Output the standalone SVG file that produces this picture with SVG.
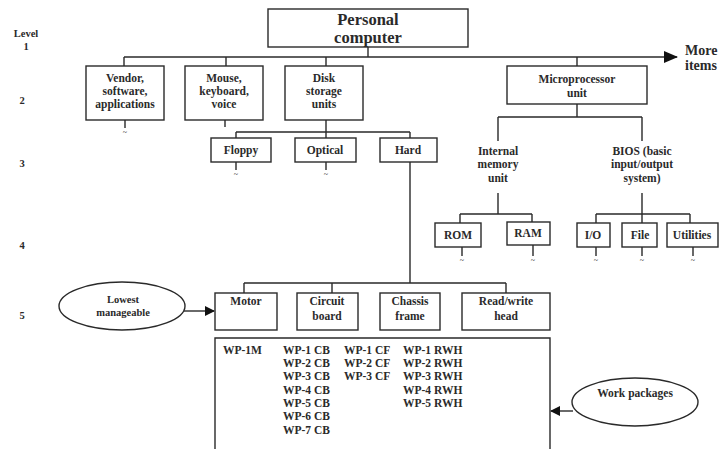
<svg xmlns="http://www.w3.org/2000/svg" width="722" height="449" viewBox="0 0 722 449" font-family="'Liberation Serif', 'DejaVu Serif', serif">
<style>
text{font-family:"Liberation Serif","DejaVu Serif",serif;font-weight:bold;fill:#2a2a2a;text-anchor:middle;font-size:11.5px}
.box{fill:#fff;stroke:#2a2a2a;stroke-width:1.4}
.ln{fill:none;stroke:#2a2a2a;stroke-width:1.4}
.lvl{font-size:10.5px}
.big{font-size:16.5px}
.more{font-size:14px;text-anchor:start}
.wp{text-anchor:start}
.tl{font-size:8px;font-weight:normal}
</style>
<defs>
<marker id="ah" markerWidth="10" markerHeight="10" refX="9" refY="5" orient="auto" markerUnits="userSpaceOnUse"><path d="M0,0 L10,5 L0,10 z" fill="#111"/></marker>
<marker id="ah2" markerWidth="14" markerHeight="12" refX="13" refY="6" orient="auto" markerUnits="userSpaceOnUse"><path d="M0,0 L14,6 L0,12 z" fill="#111"/></marker>
</defs>

<g id="levels">
<text class="lvl" x="26" y="37">Level</text>
<text class="lvl" x="26" y="50">1</text>
<text class="lvl" x="22" y="104">2</text>
<text class="lvl" x="22" y="167">3</text>
<text class="lvl" x="22" y="249">4</text>
<text class="lvl" x="22" y="319">5</text>
</g>

<g id="connectors">
<path class="ln" d="M368,47 V57"/>
<path class="ln" d="M124,57 H677" marker-end="url(#ah2)"/>
<path class="ln" d="M124,57 V66 M226,57 V66 M326,57 V66 M577,57 V66"/>
<path class="ln" d="M125,120 V128 M225,120 V127"/>
<path class="ln" d="M326,120 V132 M236,132 H410 M236,132 V138 M326,132 V138 M410,132 V138"/>
<path class="ln" d="M236,162 V170 M326,162 V170"/>
<path class="ln" d="M410,162 V283 M244,283 H506 M244,283 V293 M332,283 V293 M506,283 V293"/>
<path class="ln" d="M577,104 V117 M498,117 H642 M498,117 V141 M642,117 V141"/>
<path class="ln" d="M498,193 V214 M460,214 H532 M460,214 V223 M532,214 V222"/>
<path class="ln" d="M642,193 V214 M596,214 H690 M596,214 V223 M642,214 V223 M690,214 V223"/>
<path class="ln" d="M462,247 V256 M533,245 V256 M596,247 V256 M642,247 V256 M693,247 V256"/>
<path class="ln" d="M184,311 H214" marker-end="url(#ah)"/>
<path class="ln" d="M573,411 H551" marker-end="url(#ah)"/>
</g>

<g id="ticks">
<text class="tl" x="125" y="135">~</text>
<text class="tl" x="236" y="177">~</text>
<text class="tl" x="326" y="177">~</text>
<text class="tl" x="462" y="263">~</text>
<text class="tl" x="533" y="263">~</text>
<text class="tl" x="596" y="263">~</text>
<text class="tl" x="642" y="263">~</text>
<text class="tl" x="693" y="263">~</text>
</g>

<g id="personal-computer">
<rect class="box" x="268" y="9" width="200" height="38"/>
<text class="big" x="368" y="25">Personal</text>
<text class="big" x="368" y="43">computer</text>
</g>

<g id="more-items">
<text class="more" x="685" y="55">More</text>
<text class="more" x="685" y="70">items</text>
</g>

<g id="vendor">
<rect class="box" x="86" y="66" width="78" height="54"/>
<text x="125" y="82">Vendor,</text>
<text x="125" y="95">software,</text>
<text x="125" y="108">applications</text>
</g>
<g id="mouse">
<rect class="box" x="185" y="66" width="78" height="54"/>
<text x="224" y="82">Mouse,</text>
<text x="224" y="95">keyboard,</text>
<text x="224" y="108">voice</text>
</g>
<g id="disk">
<rect class="box" x="285" y="66" width="78" height="54"/>
<text x="324" y="82">Disk</text>
<text x="324" y="95">storage</text>
<text x="324" y="108">units</text>
</g>
<g id="microprocessor">
<rect class="box" x="507" y="66" width="140" height="38"/>
<text x="577" y="83">Microprocessor</text>
<text x="577" y="97">unit</text>
</g>

<g id="floppy">
<rect class="box" x="211" y="138" width="60" height="24"/>
<text x="241" y="154">Floppy</text>
</g>
<g id="optical">
<rect class="box" x="295" y="138" width="61" height="24"/>
<text x="325" y="154">Optical</text>
</g>
<g id="hard">
<rect class="box" x="380" y="138" width="57" height="24"/>
<text x="408" y="154">Hard</text>
</g>

<g id="internal-memory">
<text x="498" y="155">Internal</text>
<text x="498" y="168">memory</text>
<text x="498" y="182">unit</text>
</g>
<g id="bios">
<text x="642" y="155">BIOS (basic</text>
<text x="642" y="168">input/output</text>
<text x="642" y="182">system)</text>
</g>

<g id="rom">
<rect class="box" x="435" y="223" width="46" height="24"/>
<text x="458" y="239">ROM</text>
</g>
<g id="ram">
<rect class="box" x="507" y="222" width="43" height="23"/>
<text x="528" y="237">RAM</text>
</g>
<g id="io">
<rect class="box" x="577" y="223" width="33" height="24"/>
<text x="593" y="239">I/O</text>
</g>
<g id="file">
<rect class="box" x="622" y="223" width="35" height="24"/>
<text x="640" y="239">File</text>
</g>
<g id="utilities">
<rect class="box" x="667" y="223" width="51" height="24"/>
<text x="692" y="239">Utilities</text>
</g>

<g id="motor">
<rect class="box" x="215" y="293" width="62" height="37"/>
<text x="246" y="305">Motor</text>
</g>
<g id="circuit-board">
<rect class="box" x="297" y="293" width="61" height="37"/>
<text x="327" y="305">Circuit</text>
<text x="327" y="320">board</text>
</g>
<g id="chassis-frame">
<rect class="box" x="380" y="293" width="60" height="37"/>
<text x="410" y="305">Chassis</text>
<text x="410" y="320">frame</text>
</g>
<g id="read-write-head">
<rect class="box" x="462" y="293" width="88" height="37"/>
<text x="506" y="305">Read/write</text>
<text x="506" y="320">head</text>
</g>

<g id="lowest-manageable">
<ellipse class="box" cx="122" cy="306" rx="63" ry="24"/>
<text x="123" y="303" style="font-size:10.5px">Lowest</text>
<text x="123" y="316" style="font-size:10.5px">manageable</text>
</g>

<g id="work-packages-box">
<path class="ln" d="M215,450 V338 H550 V450"/>
<text class="wp" x="223" y="354">WP-1M</text>
<text class="wp" x="283" y="354">WP-1 CB</text>
<text class="wp" x="283" y="367">WP-2 CB</text>
<text class="wp" x="283" y="380">WP-3 CB</text>
<text class="wp" x="283" y="394">WP-4 CB</text>
<text class="wp" x="283" y="407">WP-5 CB</text>
<text class="wp" x="283" y="420">WP-6 CB</text>
<text class="wp" x="283" y="434">WP-7 CB</text>
<text class="wp" x="344" y="354">WP-1 CF</text>
<text class="wp" x="344" y="367">WP-2 CF</text>
<text class="wp" x="344" y="380">WP-3 CF</text>
<text class="wp" x="403" y="354">WP-1 RWH</text>
<text class="wp" x="403" y="367">WP-2 RWH</text>
<text class="wp" x="403" y="380">WP-3 RWH</text>
<text class="wp" x="403" y="394">WP-4 RWH</text>
<text class="wp" x="403" y="407">WP-5 RWH</text>
</g>

<g id="work-packages">
<ellipse class="box" cx="635" cy="402" rx="63" ry="24"/>
<text x="635" y="397">Work packages</text>
</g>
</svg>
